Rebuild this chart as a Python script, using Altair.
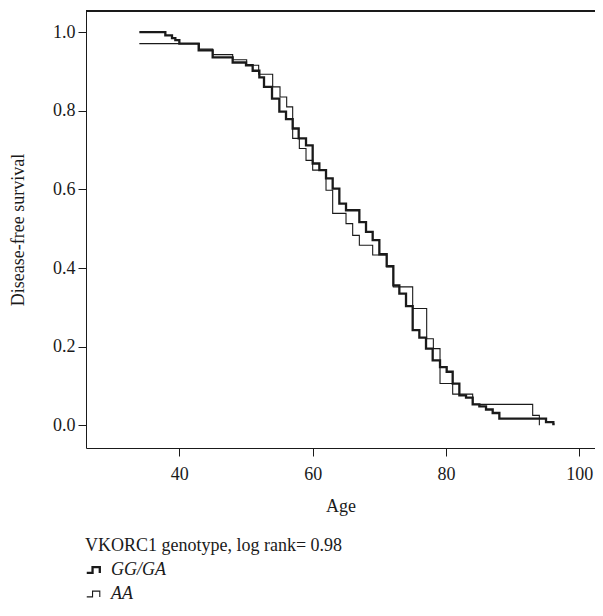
import altair as alt
import pandas as pd

# GG/GA (thick) Kaplan-Meier steps
gg_age = [34, 37.9, 38.9, 39.4, 40, 42.9, 45, 48, 50, 51, 52, 52.7, 53.9, 55, 56, 57, 57.9, 59,
          60, 61, 62, 63, 64, 65, 67, 68, 69, 70, 71.1, 72.1, 73, 74, 75, 76, 77, 78, 79.1, 80.1,
          81, 82, 83, 84, 85, 86, 87, 88, 95, 96.1, 96.3]
gg_surv = [1.0, 0.992, 0.985, 0.98, 0.971, 0.954, 0.936, 0.923, 0.916, 0.902, 0.885, 0.861, 0.831,
           0.798, 0.779, 0.755, 0.73, 0.712, 0.666, 0.649, 0.628, 0.602, 0.564, 0.547, 0.517, 0.492,
           0.471, 0.435, 0.405, 0.356, 0.335, 0.303, 0.242, 0.223, 0.195, 0.165, 0.148, 0.136, 0.106,
           0.076, 0.07, 0.053, 0.048, 0.04, 0.031, 0.017, 0.008, 0.003, 0.003]

# AA (thin) Kaplan-Meier steps
aa_age = [34, 43, 45, 48, 50.1, 51.9, 54, 55.1, 56.1, 57, 58, 59, 60, 62, 63, 65, 66, 67, 69,
          71.1, 72.1, 75, 77.1, 78.1, 79.1, 81, 84, 93, 94]
aa_surv = [0.971, 0.957, 0.943, 0.93, 0.916, 0.893, 0.861, 0.835, 0.81, 0.73, 0.704, 0.674, 0.649,
           0.598, 0.539, 0.513, 0.483, 0.458, 0.433, 0.403, 0.352, 0.297, 0.22, 0.195, 0.106, 0.079,
           0.053, 0.025, 0.0]

groups = ["GG/GA", "AA"]
x_ticks = [40, 60, 80, 100]
y_ticks = [0.0, 0.2, 0.4, 0.6, 0.8, 1.0]

df = pd.concat([
    pd.DataFrame({"Age": gg_age, "Survival": gg_surv, "Genotype": groups[0]}),
    pd.DataFrame({"Age": aa_age, "Survival": aa_surv, "Genotype": groups[1]}),
], ignore_index=True)

FONT = "Liberation Serif"
INK = "#1a1a1a"
step_path = "M -1 0.4 H -0.2 V -0.4 H 0.8 V 0.4"
W, H = 509, 437

curves = alt.Chart(df).mark_line(interpolate="step-after", color=INK).encode(
    x=alt.X("Age:Q", scale=alt.Scale(domain=[26, 26 + W / 6.667], nice=False, zero=False),
            axis=alt.Axis(values=x_ticks, title="Age", format="d")),
    y=alt.Y("Survival:Q", scale=alt.Scale(domain=[-0.058, 1.054], nice=False, zero=False),
            axis=alt.Axis(values=y_ticks, title="Disease-free survival", format=".1f")),
    strokeWidth=alt.StrokeWidth("Genotype:N",
        scale=alt.Scale(domain=groups, range=[2.3, 1.1]),
        legend=alt.Legend(title="VKORC1 genotype, log rank= 0.98", orient="none",
                          legendX=-1, legendY=526, direction="vertical",
                          symbolType=step_path, symbolSize=210,
                          symbolFillColor="transparent", symbolStrokeColor=INK,
                          labelFontStyle="italic", labelOffset=8, rowPadding=6,
                          titlePadding=6)),
    detail="Genotype:N",
)

top_border = alt.Chart(df).mark_rule(color=INK, strokeWidth=1).encode(
    x=alt.value(0), x2=alt.value(W), y=alt.value(0)
)

chart = alt.layer(curves, top_border).properties(
    width=W, height=H,
    padding={"left": 78, "top": 3, "right": 0, "bottom": 159},
    autosize=alt.AutoSizeParams(type="none"),
).configure_view(
    stroke=None
).configure_axis(
    domain=True, domainColor=INK, domainWidth=1, grid=False,
    tickColor=INK, tickSize=8, tickWidth=1,
    labelFont=FONT, labelFontSize=18, labelColor=INK, labelPadding=3,
    titleFont=FONT, titleFontSize=18, titleFontWeight="normal", titleColor=INK,
).configure_axisY(titlePadding=25).configure_axisX(titlePadding=14, labelPadding=9).configure_legend(
    titleFont=FONT, titleFontSize=18, titleFontWeight="normal", titleColor=INK,
    labelFont=FONT, labelFontSize=18, labelColor=INK, titleLimit=600,
)

chart.save("out.html", embed_options={"renderer": "svg", "actions": False})
